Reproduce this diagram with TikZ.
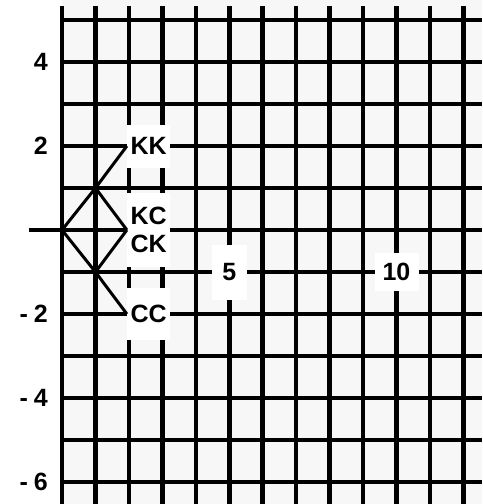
\documentclass[tikz,border=0pt]{standalone}
\usepackage{fontspec}
\setmainfont{Liberation Sans}
\begin{document}
\begin{tikzpicture}[x=33.45pt,y=42pt,
  gridline/.style={line width=4.5pt,black},
  tree/.style={line width=3pt,black},
  lbl/.style={fill=white,inner sep=0pt,text=black,font=\fontsize{25}{28}\selectfont\bfseries},
  ylbl/.style={anchor=east,inner sep=0pt,text=black,font=\fontsize{25}{28}\selectfont\bfseries}]
\useasboundingbox (-1.8535,-6.5238) rectangle (12.5575,5.4762);
\fill[black!3] (0,-6.5238) rectangle (12.5575,5.4762);
\foreach \i in {0,...,12} \draw[gridline] (\i,5.333) -- (\i,-6.5238);
\foreach \j in {-6,...,5} \draw[gridline] (0,\j) -- (12.5575,\j);
\coordinate (axl) at (-1,0);
\coordinate (o) at (0,0);
\coordinate (u) at (1,1);
\coordinate (d) at (1,-1);
\draw[gridline] (axl) -- (o);
\node[lbl,anchor=west,minimum width=43pt,minimum height=43pt,xshift=-2pt] (kk) at (2,2) {KK};
\node[lbl,anchor=west,minimum width=43pt,minimum height=74pt,align=center,xshift=-2pt] (kc) at (2,0) {KC\\CK};
\node[lbl,anchor=west,minimum width=43pt,minimum height=52pt,xshift=-2pt] (cc) at (2,-2) {CC};
\node[lbl,minimum width=35pt,minimum height=55pt] (five) at (5,-1) {5};
\node[lbl,minimum width=44pt,minimum height=38pt] (ten) at (10,-1) {10};
\draw[tree] (o) -- (u) -- (kk.west);
\draw[tree] (u) -- (kc.west);
\draw[tree] (o) -- (d) -- (kc.west);
\draw[tree] (d) -- (cc.west);
\node[ylbl] (y4) at (-0.419,4) {4};
\node[ylbl] (y2) at (-0.419,2) {2};
\node[ylbl] (ym2) at (-0.419,-2) {-\hspace{6pt}2};
\node[ylbl] (ym4) at (-0.419,-4) {-\hspace{6pt}4};
\node[ylbl] (ym6) at (-0.419,-6) {-\hspace{6pt}6};
\end{tikzpicture}
\end{document}
